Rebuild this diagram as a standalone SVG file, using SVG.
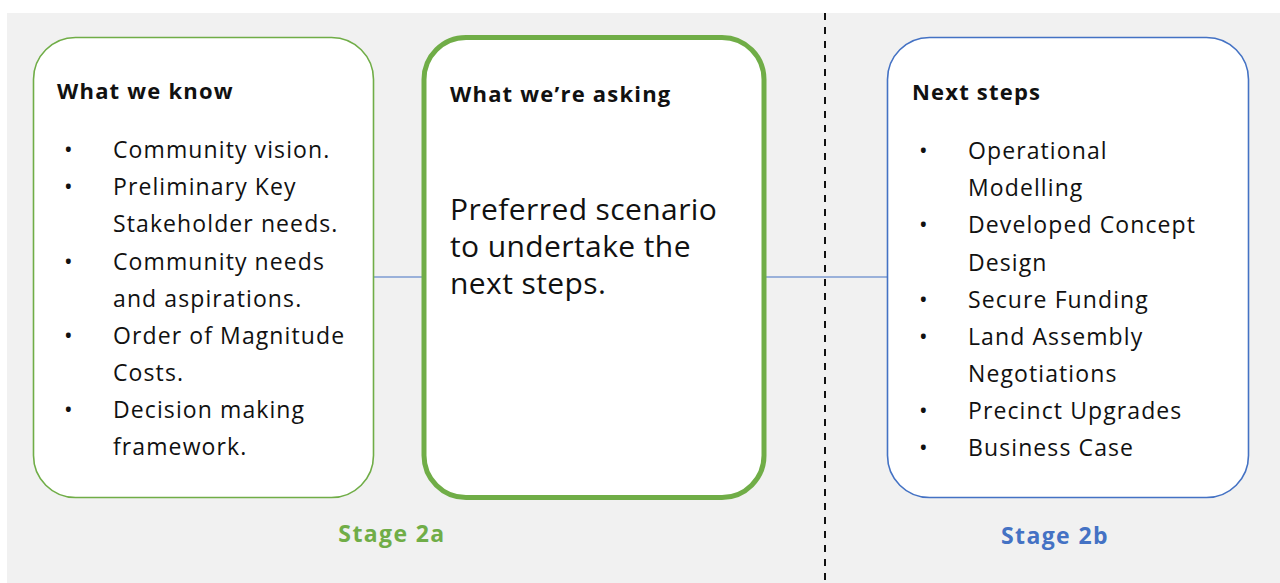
<svg xmlns="http://www.w3.org/2000/svg" width="1280" height="583" viewBox="0 0 1280 583">
<style>
.t{font-family:"Open Sans","Liberation Sans",sans-serif;fill:#111;}
.h{font-size:22px;font-weight:700;letter-spacing:1.2px;}
.b{font-size:23px;letter-spacing:1.1px;}
.m{font-size:30px;letter-spacing:0.4px;}
.s{font-size:23px;font-weight:700;text-anchor:middle;letter-spacing:1.4px;}
</style>
<rect x="7" y="13" width="1273" height="570" fill="#f1f1f1"/>
<line x1="825" y1="13" x2="825" y2="583" stroke="#111" stroke-width="2" stroke-dasharray="7,7"/>
<g id="connectors" stroke="#4472C4" stroke-width="1.2">
<line x1="374" y1="277" x2="422" y2="277"/>
<line x1="766" y1="277" x2="887" y2="277"/>
</g>
<g id="know">
<rect x="33.5" y="37.5" width="340" height="460" rx="42" fill="#fff" stroke="#70AD47" stroke-width="1.6"/>
<text class="t h" x="57" y="99">What we know</text>
<g class="t b">
<text x="64" y="158">•</text><text x="113" y="158">Community vision.</text>
<text x="64" y="195">•</text><text x="113" y="195">Preliminary Key</text>
<text x="113" y="232">Stakeholder needs.</text>
<text x="64" y="270">•</text><text x="113" y="270">Community needs</text>
<text x="113" y="307">and aspirations.</text>
<text x="64" y="344">•</text><text x="113" y="344">Order of Magnitude</text>
<text x="113" y="381">Costs.</text>
<text x="64" y="418">•</text><text x="113" y="418">Decision making</text>
<text x="113" y="455">framework.</text>
</g>
</g>
<g id="asking">
<rect x="424" y="37.5" width="340" height="460" rx="42" fill="#fff" stroke="#70AD47" stroke-width="5"/>
<text class="t h" x="450" y="102">What we’re asking</text>
<g class="t m">
<text x="450" y="220">Preferred scenario</text>
<text x="450" y="257">to undertake the</text>
<text x="450" y="294">next steps.</text>
</g>
</g>
<g id="next">
<rect x="887.5" y="37.5" width="361" height="460" rx="42" fill="#fff" stroke="#4472C4" stroke-width="1.6"/>
<text class="t h" x="912" y="100">Next steps</text>
<g class="t b">
<text x="919" y="159">•</text><text x="968" y="159">Operational</text>
<text x="968" y="196">Modelling</text>
<text x="919" y="233">•</text><text x="968" y="233">Developed Concept</text>
<text x="968" y="271">Design</text>
<text x="919" y="308">•</text><text x="968" y="308">Secure Funding</text>
<text x="919" y="345">•</text><text x="968" y="345">Land Assembly</text>
<text x="968" y="382">Negotiations</text>
<text x="919" y="419">•</text><text x="968" y="419">Precinct Upgrades</text>
<text x="919" y="456">•</text><text x="968" y="456">Business Case</text>
</g>
</g>
<g id="labels">
<text class="t s" x="392" y="542" style="fill:#70AD47">Stage 2a</text>
<text class="t s" x="1055" y="544" style="fill:#4472C4">Stage 2b</text>
</g>
</svg>
